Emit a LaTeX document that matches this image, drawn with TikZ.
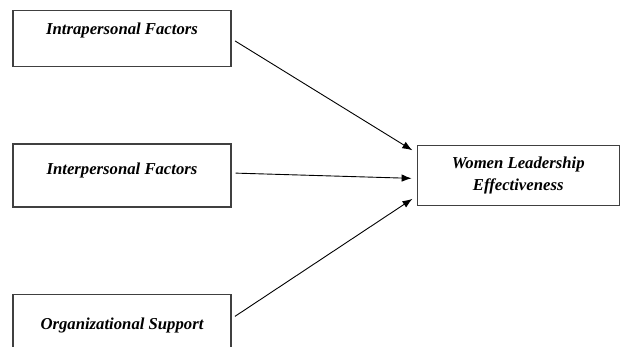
\documentclass[tikz,border=0pt]{standalone}
\usepackage{fontspec}
\setmainfont{Liberation Serif}
\usetikzlibrary{arrows.meta,positioning}

\begin{document}
\begin{tikzpicture}[x=1pt,y=-1pt,node distance=76pt and 186pt,>={Latex[length=10pt,width=7.5pt]},shorten >=5pt,shorten <=4pt]
  \tikzstyle{every node}=[font=\fontsize{16.7}{22}\selectfont\bfseries\itshape]
  \tikzstyle{factor}=[draw=black!75,line width=1.2pt,minimum width=218pt,inner sep=0pt]
  \tikzstyle{outcome}=[draw=black!75,line width=1.2pt,minimum width=202pt,minimum height=60pt,align=center]

  \clip (0,0) rectangle (622,347);

  \node[factor,text height=30.5pt,text depth=32.5pt] (inter) at (122,175.5) {Interpersonal Factors};
  \node[factor,text height=23.5pt,text depth=32.5pt] (intra) [above=of inter] {Intrapersonal Factors};
  \node[factor,text height=35.5pt,text depth=60pt] (orgsup) [below=86pt of inter] {Organizational Support};
  \node[outcome] (eff) [right=185pt of inter] {Women Leadership\\Effectiveness};

  \path[->,line width=0.9pt]
  (intra.east)                    edge ([yshift=-8pt]eff.north west)
  ([yshift=2.5pt]inter.east)      edge ([yshift=-3pt]eff.west)
  ([yshift=-25pt]orgsup.north east) edge ([yshift=10pt]eff.south west);
\end{tikzpicture}
\end{document}
